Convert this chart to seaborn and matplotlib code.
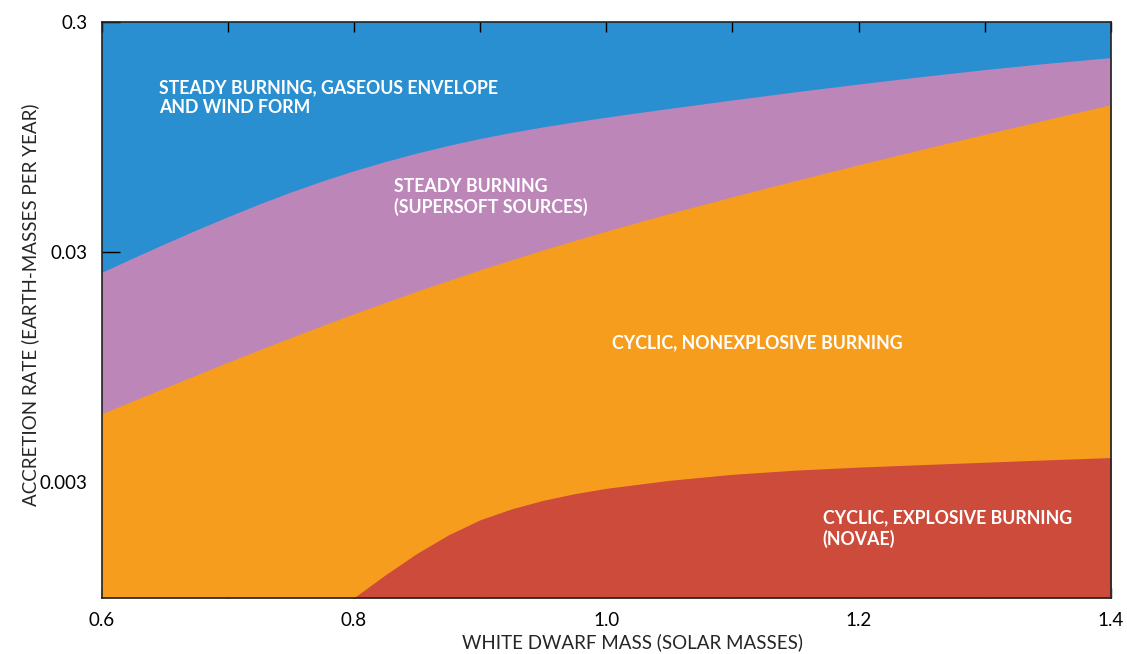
import numpy as np
import matplotlib
matplotlib.use('Agg')
import matplotlib.pyplot as plt
import seaborn as sns

# limite intre regimuri de ardere
mass_env = [0.6, 0.625, 0.65, 0.675, 0.7, 0.725, 0.75, 0.775, 0.8, 0.825,
            0.85, 0.875, 0.9, 0.925, 0.95, 0.975, 1.0, 1.025, 1.05, 1.1,
            1.15, 1.2, 1.25, 1.3, 1.35, 1.4]
rate_env = [0.02443, 0.02825, 0.03255, 0.03736, 0.04266, 0.04847, 0.05465,
            0.06107, 0.06763, 0.0742, 0.08078, 0.0872, 0.0934, 0.09932,
            0.10494, 0.1103, 0.11562, 0.12093, 0.12625, 0.13744, 0.14911,
            0.16118, 0.17359, 0.18626, 0.19848, 0.20988]

mass_ss = [0.6, 0.65, 0.7, 0.75, 0.8, 0.85, 0.9, 0.95, 1.0, 1.05, 1.1,
           1.15, 1.2, 1.25, 1.3, 1.35, 1.4]
rate_ss = [0.005927, 0.007688, 0.009934, 0.012733, 0.016155, 0.020259,
           0.025078, 0.030636, 0.036948, 0.044067, 0.052134, 0.061311,
           0.071799, 0.083775, 0.097452, 0.11315, 0.13111]

mass_nova = [0.8, 0.825, 0.85, 0.875, 0.9, 0.925, 0.95, 0.975, 1.0, 1.05,
             1.1, 1.15, 1.2, 1.25, 1.3, 1.35, 1.4]
rate_nova = [0.00094, 0.001183, 0.001466, 0.001765, 0.002051, 0.002289,
             0.002493, 0.002665, 0.002811, 0.003045, 0.003234, 0.003373,
             0.003476, 0.003564, 0.00365, 0.003739, 0.003826]

x_ticks = [0.6, 0.7, 0.8, 0.9, 1.0, 1.1, 1.2, 1.3, 1.4]
x_labels = ['0.6', '', '0.8', '', '1.0', '', '1.2', '', '1.4']
y_ticks = [0.003, 0.03, 0.3]
y_labels = ['0.003', '0.03', '0.3']

regions = ['STEADY BURNING, GASEOUS ENVELOPE\nAND WIND FORM',
           'STEADY BURNING\n(SUPERSOFT SOURCES)',
           'CYCLIC, NONEXPLOSIVE BURNING',
           'CYCLIC, EXPLOSIVE BURNING\n(NOVAE)']
region_x = [0.6456, 0.8317, 1.0045, 1.1716]
region_y = [0.169, 0.063, 0.0132, 0.00227]

c_blue = '#2a8fd0'
c_purple = '#bd86b9'
c_orange = '#f79d1e'
c_red = '#cd4b3b'

y_min, y_max = 0.00094, 0.3

sns.set_style('ticks')
plt.rcParams['font.family'] = ['Lato', 'DejaVu Sans']

fig = plt.figure(figsize=(11.27, 6.54), dpi=100)
ax = fig.add_axes([0.0901, 0.0861, 0.8957, 0.8803])
ax.set_yscale('log')
ax.set_facecolor(c_blue)

# straturile se suprapun de sus in jos
ax.fill_between(mass_env, y_min, rate_env, color=c_purple, linewidth=0)
ax.fill_between(mass_ss, y_min, rate_ss, color=c_orange, linewidth=0)
ax.fill_between(mass_nova, y_min, rate_nova, color=c_red, linewidth=0)

for s, xx, yy in zip(regions, region_x, region_y):
    ax.text(xx, yy, s, color='white', fontsize=12.8, fontweight='bold',
            va='top', ha='left', linespacing=1.22)

ax.set_xlim(0.6, 1.4)
ax.set_ylim(y_min, y_max)
ax.set_xticks(x_ticks)
ax.set_xticklabels(x_labels)
ax.set_yticks(y_ticks)
ax.set_yticklabels(y_labels)
ax.yaxis.set_minor_locator(matplotlib.ticker.NullLocator())

ax.tick_params(axis='x', direction='in', length=7.5, width=1, top=True,
               labeltop=False, pad=10, labelsize=13.5, colors='black')
ax.tick_params(axis='y', direction='in', length=13, width=1, right=False,
               pad=10, labelsize=13.5, colors='black')

for sp in ax.spines.values():
    sp.set_visible(True)
    sp.set_linewidth(1.2)
    sp.set_color('#222222')

ax.set_xlabel('WHITE DWARF MASS (SOLAR MASSES)', fontsize=13.5)
ax.set_ylabel('ACCRETION RATE (EARTH-MASSES PER YEAR)', fontsize=13.5)
ax.xaxis.set_label_coords(0.5255, -0.062)
ax.yaxis.set_label_coords(-0.062, 0.509)

fig.savefig('out.png', dpi=100)
